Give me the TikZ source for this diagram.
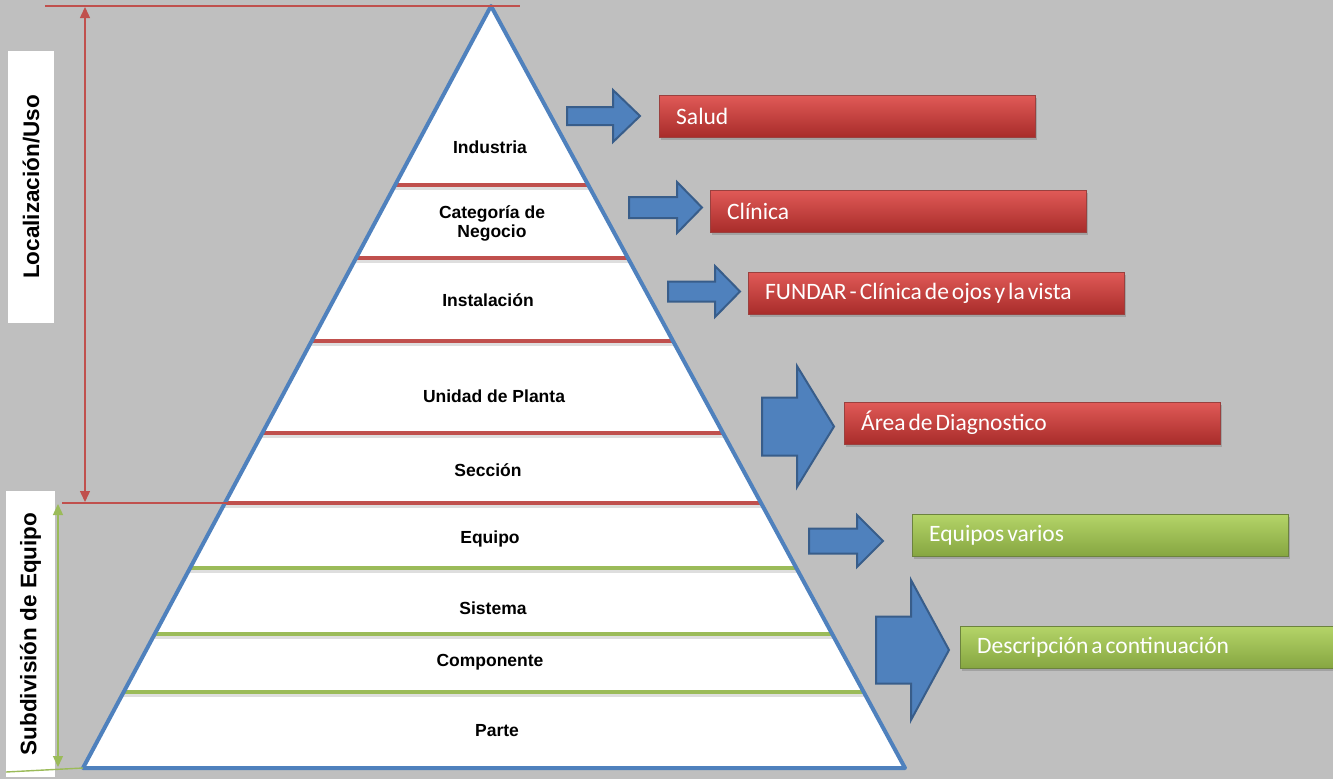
\documentclass[tikz,border=0pt]{standalone}
\usepackage{fontspec}
\setmainfont{Liberation Sans}
\newfontfamily\boxfont{Carlito}
\usetikzlibrary{calc,shadows,arrows.meta}

\definecolor{bggray}{HTML}{BFBFBF}
\definecolor{pyrblue}{HTML}{4F81BD}
\definecolor{arrdark}{HTML}{385D8A}
\definecolor{levred}{HTML}{C0504D}
\definecolor{levgreen}{HTML}{9BBB59}
\definecolor{redtop}{HTML}{E05A57}
\definecolor{redbot}{HTML}{A82C2A}
\definecolor{greentop}{HTML}{B4D468}
\definecolor{greenbot}{HTML}{86A641}

% block arrow: start x, centre y, head start x, tip x, shaft half, head half
\newcommand\blockarrow[6]{%
  \filldraw[blockarr] (#1,#2-#5) -- (#3,#2-#5) -- (#3,#2-#6) -- (#4,#2)
    -- (#3,#2+#6) -- (#3,#2+#5) -- (#1,#2+#5) -- cycle;}

\begin{document}
\begin{tikzpicture}[x=1pt,y=-1pt,
    lvl/.style={font=\bfseries\fontsize{17.5}{19}\selectfont, align=center},
    level/.style={line width=4pt},
    blockarr/.style={fill=pyrblue, draw=arrdark, line width=2pt, line join=miter},
    labelbox/.style={anchor=north west, inner xsep=17pt, inner ysep=0pt,
      minimum height=42pt, text width=342pt, align=left, text=white,
      font=\boxfont\fontsize{23.5}{26}\selectfont,
      execute at begin node={\spaceskip=3pt\relax},
      drop shadow={shadow xshift=2pt, shadow yshift=-3pt, opacity=.45}},
    redbox/.style={labelbox, top color=redtop, bottom color=redbot, draw=levred!80!black, thin},
    greenbox/.style={labelbox, top color=greentop, bottom color=greenbot, draw=levgreen!70!black, thin},
    sidebox/.style={fill=white, rotate=90, font=\bfseries\fontsize{22.5}{24}\selectfont},
    dim/.style={line width=1.4pt}]

  \fill[bggray] (0,0) rectangle (1333,779);
  \useasboundingbox (0,0) rectangle (1333,779);

  % pyramid
  \coordinate (apex) at (491,6);
  \coordinate (bl) at (83,768);
  \coordinate (br) at (905,768);
  \fill[white] (apex) -- (bl) -- (br) -- cycle;
  \foreach \yy/\col in {185/levred,258/levred,341/levred,433/levred,503/levred,
                        568/levgreen,634/levgreen,692/levgreen}{
    \draw[level, black!25, opacity=.5] ($(apex)!{(\yy-3)/762}!(bl)$) -- ($(apex)!{(\yy-3)/762}!(br)$);
    \draw[level, \col] ($(apex)!{(\yy-6)/762}!(bl)$) -- ($(apex)!{(\yy-6)/762}!(br)$);
  }
  \draw[pyrblue, line width=4pt, line join=round] (apex) -- (bl) -- (br) -- cycle;

  \node[lvl] (industria) at (490,147) {Industria};
  \node[lvl] (categoria) at (492,223) {Categoría de\\Negocio};
  \node[lvl] (instalacion) at (488,300) {Instalación};
  \node[lvl] (unidad) at (494,396) {Unidad de Planta};
  \node[lvl] (seccion) at (488,470) {Sección};
  \node[lvl] (equipo) at (490,539) {Equipo};
  \node[lvl] (sistema) at (493,608) {Sistema};
  \node[lvl] (componente) at (490,662) {Componente};
  \node[lvl] (parte) at (497,731) {Parte};

  % side labels and spans
  \node[sidebox, minimum width=272pt, minimum height=46pt] (loc) at (31,187) {Localización/Uso};
  \node[sidebox, minimum width=286pt, minimum height=49pt] (subdiv) at (30.5,634) {Subdivisión de Equipo};

  \coordinate (topl) at (45,6);
  \coordinate (topr) at (520,6);
  \coordinate (loctop) at (85,7);
  \coordinate (locbot) at (85,502);
  \coordinate (midl) at (62,503);
  \coordinate (midr) at (228,503);
  \coordinate (subtop) at (58,504);
  \coordinate (subbot) at (58,767);
  \coordinate (botl) at (6,772);
  \draw[dim, levred] (topl) -- (topr);
  \draw[dim, levred, {Triangle[length=11pt,width=10pt]}-{Triangle[length=11pt,width=10pt]}] (loctop) -- (locbot);
  \draw[dim, levred] (midl) -- (midr);
  \draw[dim, levgreen, {Triangle[length=11pt,width=10pt]}-{Triangle[length=11pt,width=10pt]}] (subtop) -- (subbot);
  \draw[dim, levgreen] (botl) -- (bl);

  % arrows to the examples
  \blockarrow{567}{116}{613}{640}{9}{26}
  \blockarrow{629}{207.5}{677}{702}{10.5}{25.5}
  \blockarrow{668}{291.5}{715}{740}{10}{25.5}
  \blockarrow{762}{426.5}{797}{834}{29}{60.5}
  \blockarrow{809}{541}{857}{883}{12.5}{26}
  \blockarrow{876}{650}{911}{949}{33.5}{70}

  \node[redbox] (salud) at (659,95) {Salud};
  \node[redbox] (clinica) at (710,190) {Clínica};
  \node[redbox] (fundar) at (748,272) {FUNDAR - Clínica de ojos y la vista};
  \node[redbox] (area) at (844,402) {Área de Diagnostico};
  \node[greenbox] (varios) at (912,514) {Equipos varios};
  \node[greenbox] (descripcion) at (960,626) {Descripción a continuación};
\end{tikzpicture}
\end{document}
